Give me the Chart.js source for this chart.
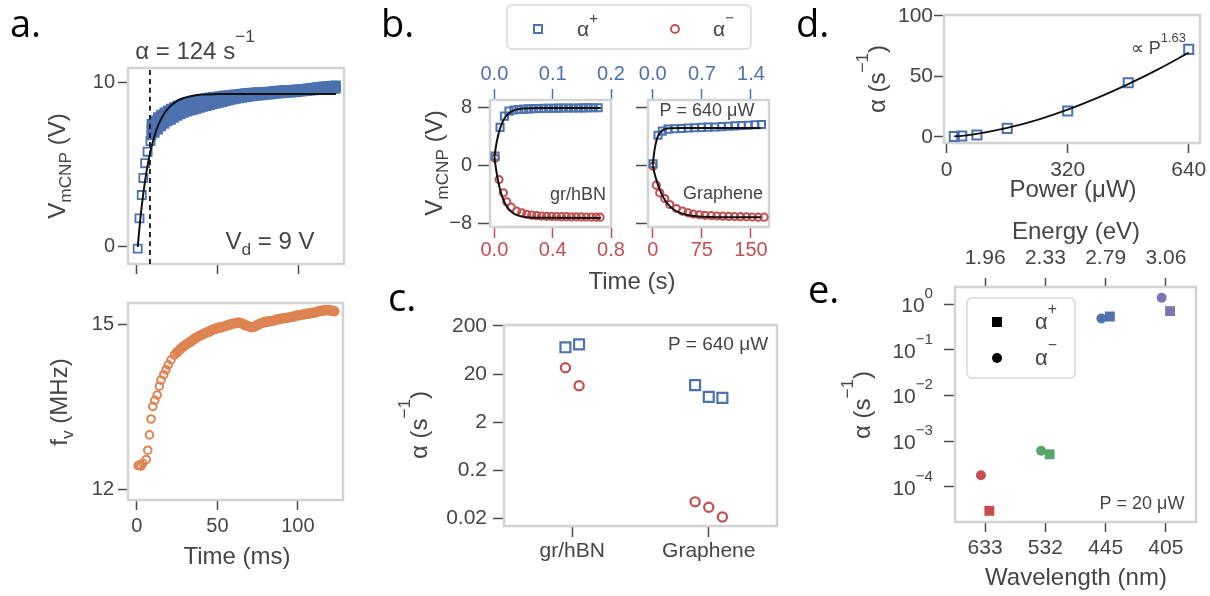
<!DOCTYPE html>
<html>
<head>
<meta charset="utf-8">
<script src="https://cdn.jsdelivr.net/npm/chart.js@4.4.1/dist/chart.umd.min.js"></script>
<style>
html, body { margin: 0; padding: 0; background: #fff; }
#wrap { position: relative; width: 1210px; height: 596px; overflow: hidden; }
#wrap canvas { position: absolute; left: 0; top: 0; }
</style>
</head>
<body>
<div id="wrap"></div>
<script>
// ---- data ----

// a. top: V_mCNP vs time (ms)
const aTimeEarly = [0.5, 1.6, 3.0, 4.0, 5.1, 6.6, 8.4];
const aVoltEarly = [-0.1, 1.74, 3.16, 4.2, 5.1, 5.8, 6.45];
const aTimeBand = [9, 11, 13, 15, 17, 19, 21, 23, 25, 27, 29, 31, 33, 35, 37, 39, 41, 43, 45, 47,
    49, 51, 53, 55, 57, 59, 61, 63, 65, 67, 69, 71, 73, 75, 77, 79, 81, 83, 85, 87,
    89, 91, 93, 95, 97, 99, 101, 103, 105, 107, 109, 111, 113, 115, 117, 119, 121, 123];
const aVoltHigh = [7.5, 7.7, 7.9, 8.05, 8.2, 8.32, 8.42, 8.52, 8.6, 8.67, 8.73, 8.79, 8.84, 8.89, 8.94, 8.98, 9.02, 9.06, 9.1, 9.13,
    9.16, 9.18, 9.21, 9.23, 9.25, 9.27, 9.29, 9.31, 9.33, 9.36, 9.38, 9.4, 9.41, 9.42, 9.43, 9.44, 9.46, 9.48, 9.5, 9.52,
    9.54, 9.55, 9.56, 9.57, 9.58, 9.59, 9.61, 9.63, 9.65, 9.67, 9.7, 9.73, 9.75, 9.77, 9.79, 9.81, 9.83, 9.84];
const aVoltLow = [6.8, 6.95, 7.15, 7.35, 7.5, 7.65, 7.75, 7.87, 7.98, 8.08, 8.17, 8.24, 8.3, 8.36, 8.42, 8.48, 8.53, 8.58, 8.63, 8.68,
    8.73, 8.78, 8.83, 8.88, 8.93, 8.98, 9.02, 9.06, 9.09, 9.12, 9.15, 9.18, 9.2, 9.22, 9.24, 9.26, 9.28, 9.3, 9.32, 9.34,
    9.36, 9.38, 9.4, 9.41, 9.42, 9.44, 9.46, 9.48, 9.5, 9.52, 9.54, 9.56, 9.57, 9.58, 9.59, 9.6, 9.62, 9.64];
const aTimeMid = [9, 11, 13, 15, 17, 19, 21, 23, 25, 27, 29, 31, 33, 35, 37, 39, 41, 43, 45, 47];
const aVoltMid = [7.15, 7.33, 7.53, 7.7, 7.85, 7.99, 8.09, 8.2, 8.29, 8.38, 8.45, 8.52, 8.57, 8.63, 8.68, 8.73, 8.78, 8.82, 8.87, 8.91];
const aFitTime = [0.5, 2, 4, 6, 8, 10, 12, 14, 17, 20, 24, 28, 33, 40, 50, 70, 123];
const aFitVolt = [0, 1.59, 3.29, 4.62, 5.66, 6.47, 7.1, 7.6, 8.14, 8.52, 8.84, 9.04, 9.18, 9.28, 9.31, 9.32, 9.32];
const aDashTime = 8.06;

// a. bottom: f_v vs time (ms)
const fTime = [0.8, 1.6, 2.6, 3.7, 5.8, 6.8, 7.8, 8.8, 9.9, 11.2, 12.6, 14.0, 15.0, 16.7, 18.1, 19.5, 21.2, 23.3,
    25, 27, 29, 31, 33, 35, 37, 39, 41, 43, 45, 47, 49, 51, 53, 55, 57, 59, 61, 63, 65, 67, 69, 71, 73,
    75, 77, 79, 81, 83, 85, 87, 89, 91, 93, 95, 97, 99, 101, 103, 105, 107, 109, 111, 113, 115, 117, 119, 121, 122.5];
const fFreq = [12.43, 12.44, 12.42, 12.47, 12.54, 12.71, 12.99, 13.28, 13.51, 13.62, 13.72, 13.88, 13.99, 14.09, 14.18, 14.27, 14.36, 14.45,
    14.5, 14.56, 14.61, 14.65, 14.69, 14.73, 14.77, 14.8, 14.83, 14.86, 14.88, 14.91, 14.93, 14.95, 14.96, 14.98, 15.0, 15.02, 15.03, 15.04, 15.03, 15.0, 14.98, 14.96, 14.97,
    15.0, 15.03, 15.05, 15.06, 15.07, 15.08, 15.1, 15.11, 15.12, 15.13, 15.14, 15.15, 15.17, 15.18, 15.19, 15.2, 15.21, 15.22, 15.23, 15.25, 15.26, 15.27, 15.27, 15.26, 15.25];
const fHollowCount = 18;

// b. gr/hBN (time in s, bottom axis)
const bHbnTimeUp = [0.005, 0.039, 0.069, 0.1, 0.134, 0.168, 0.202, 0.236, 0.27, 0.304, 0.338, 0.372, 0.406, 0.44, 0.474, 0.508, 0.542, 0.576, 0.61, 0.644, 0.678, 0.712];
const bHbnVoltUp = [1.3, 5.3, 6.86, 7.55, 7.7, 7.78, 7.83, 7.87, 7.9, 7.92, 7.94, 7.95, 7.96, 7.97, 7.98, 7.99, 8.0, 8.0, 8.01, 8.02, 8.02, 8.03];
const bHbnTimeDown = [0.005, 0.032, 0.062, 0.085, 0.115, 0.153, 0.188, 0.222, 0.256, 0.29, 0.324, 0.358, 0.392, 0.426, 0.46, 0.494, 0.528, 0.562, 0.596, 0.63, 0.664, 0.698, 0.725];
const bHbnVoltDown = [1.0, -1.95, -3.8, -5.05, -5.8, -6.35, -6.58, -6.78, -6.9, -6.98, -7.03, -7.06, -7.08, -7.1, -7.11, -7.12, -7.13, -7.14, -7.15, -7.16, -7.17, -7.18, -7.19];
const bHbnFitTime = [0, 0.01, 0.02, 0.03, 0.04, 0.05, 0.06, 0.08, 0.1, 0.13, 0.16, 0.2, 0.25, 0.3, 0.73];
const bHbnFitUp = [1.2, 2.56, 3.64, 4.51, 5.2, 5.76, 6.2, 6.85, 7.26, 7.62, 7.81, 7.92, 7.97, 7.99, 8.0];
const bHbnFitDown = [1.2, -0.31, -1.56, -2.58, -3.42, -4.11, -4.68, -5.53, -6.1, -6.64, -6.93, -7.13, -7.24, -7.28, -7.3];

// b. Graphene (time in s, bottom axis)
const bGrTimeUp = [0.5, 8.1, 14.7, 23.4, 33.6, 43.8, 54, 64.2, 74.4, 84.6, 94.8, 105, 115.2, 125.4, 135.6, 145.8, 156, 166];
const bGrVoltUp = [0.23, 4.2, 4.77, 5.05, 5.1, 5.15, 5.2, 5.25, 5.3, 5.33, 5.36, 5.4, 5.45, 5.5, 5.55, 5.6, 5.65, 5.7];
const bGrTimeDown = [0.5, 5.5, 10.7, 18.4, 26, 36.2, 45.4, 54, 62, 71, 80, 89, 98, 107, 116, 125, 134, 143, 152, 161, 170];
const bGrVoltDown = [-0.1, -2.74, -3.8, -4.59, -5.42, -5.98, -6.35, -6.58, -6.75, -6.85, -6.93, -6.98, -7.02, -7.05, -7.08, -7.1, -7.12, -7.14, -7.16, -7.18, -7.19];
const bGrFitTimeUp = [0, 2, 4, 6, 8, 10, 13, 16, 20, 25, 30, 40, 165];
const bGrFitUp = [0, 1.66, 2.79, 3.56, 4.08, 4.44, 4.77, 4.96, 5.09, 5.16, 5.18, 5.2, 5.2];
const bGrFitTimeDown = [0, 3, 6, 10, 15, 20, 25, 30, 40, 50, 60, 75, 100, 165];
const bGrFitDown = [0, -1.17, -2.14, -3.2, -4.22, -4.98, -5.54, -5.97, -6.52, -6.82, -6.99, -7.11, -7.18, -7.2];

// c. rates per sample (s^-1)
const cSamples = ['gr/hBN', 'Graphene'];
const cAlphaPlus = [[72, 83], [11.8, 6.7, 6.4]];
const cAlphaMinus = [[27, 11.4], [0.044, 0.034, 0.0213]];

// d. rate vs power
const dPower = [20, 40, 80, 160, 320, 480, 640];
const dAlpha = [0.2, 0.6, 1.4, 6.9, 21.2, 44.6, 72.2];
const dFitPower = [20, 40, 80, 160, 240, 320, 400, 480, 560, 640];
const dFitAlpha = [0.25, 0.76, 2.34, 7.25, 14.0, 22.4, 32.3, 43.5, 55.9, 69.5];

// e. rate vs wavelength
const eWavelength = ['633', '532', '445', '405'];
const eEnergy = ['1.96', '2.33', '2.79', '3.06'];
const eAlphaPlus = [3.0e-5, 5.2e-4, 0.54, 0.71];
const eAlphaMinus = [1.8e-4, 6.2e-4, 0.49, 1.39];
const eExponents = [0, -1, -2, -3, -4];

// ---- style ----
const W = 1210, H = 596;
const FONT = '"Liberation Sans", Arial, sans-serif';
const PANEL_FONT = '"Open Sans", "Liberation Sans", sans-serif';
const TEXT = '#454545', TICK = '#4a4a4a', SPINE = '#d3d3d3';
const BLUE = '#4c72b0', RED = '#c44e52', ORANGE = '#dd8452', GREEN = '#55a868', PURPLE = '#8172b2';
const eColors = [RED, GREEN, BLUE, PURPLE];
const YW = 60, XH = 40;

Chart.defaults.font.family = FONT;
Chart.defaults.color = TEXT;

function drawRich(ctx, t) {
    const fs = t.size || 24, fam = t.family || FONT;
    const rise = t.rise || 0.6, drop = t.drop || 0.35;
    const segs = t.parts.map(p => typeof p === 'string' ? [p, 0] : p);
    ctx.save();
    let total = 0;
    const m = segs.map(([s, k]) => {
        const f = k ? fs * 0.72 : fs;
        ctx.font = f + 'px ' + fam;
        const w = ctx.measureText(s).width;
        total += w;
        return { s, k, f, w };
    });
    ctx.translate(t.x, t.y);
    if (t.rot) ctx.rotate(t.rot);
    let x = t.align === 'left' ? 0 : t.align === 'right' ? -total : -total / 2;
    ctx.fillStyle = t.color || TEXT;
    ctx.textAlign = 'left';
    ctx.textBaseline = t.base || 'middle';
    m.forEach(g => {
        ctx.font = g.f + 'px ' + fam;
        const dy = g.k > 0 ? -fs * rise : g.k < 0 ? fs * drop : 0;
        ctx.fillText(g.s, x, dy);
        x += g.w;
    });
    ctx.restore();
}

function deco(texts, extra) {
    return {
        id: 'deco',
        beforeDatasetsDraw(chart) {
            const a = chart.chartArea, ctx = chart.ctx;
            ctx.save();
            ctx.strokeStyle = SPINE;
            ctx.lineWidth = 2.5;
            ctx.strokeRect(a.left, a.top, a.right - a.left, a.bottom - a.top);
            ctx.restore();
        },
        afterDraw(chart) {
            texts.forEach(t => drawRich(chart.ctx, t));
            if (extra) extra(chart);
        }
    };
}

function axis(pos, min, max, ticks, o = {}) {
    const vertical = pos === 'left' || pos === 'right';
    return {
        type: o.log ? 'logarithmic' : 'linear',
        axis: vertical ? 'y' : 'x',
        position: pos,
        min: min,
        max: max,
        afterBuildTicks: s => { s.ticks = ticks.map(v => ({ value: v })); },
        afterFit: s => {
            if (vertical) s.width = YW; else s.height = XH;
            s.paddingLeft = s.paddingRight = s.paddingTop = s.paddingBottom = 0;
        },
        grid: { display: true, drawOnChartArea: false, drawTicks: true, tickLength: o.tl || 10, tickWidth: 1.5, tickColor: o.color || TICK },
        border: { display: false },
        ticks: {
            display: o.labels !== false,
            padding: o.pad === undefined ? 5 : o.pad,
            color: o.color || TEXT,
            font: { size: o.fs || 20 },
            autoSkip: false, maxRotation: 0, minRotation: 0,
            callback: o.fmt || (v => String(v))
        }
    };
}

const minus = v => v < 0 ? '\u2212' + (-v) : String(v);
const oneDec = v => v.toFixed(1);
const pts = (xs, ys) => xs.map((x, i) => ({ x: x, y: ys[i] }));

function markers(data, style, color, r, fill, bw) {
    return {
        data: data, showLine: false, clip: false,
        pointStyle: style, pointRadius: r, pointHoverRadius: r,
        pointBorderWidth: fill === 'solid' ? 0 : (bw || 2),
        pointBorderColor: color,
        pointBackgroundColor: fill ? color : 'rgba(255,255,255,0)'
    };
}

function curve(data, color, width, dash) {
    return {
        data: data, showLine: true, pointRadius: 0, borderColor: color, borderWidth: width,
        borderDash: dash || [], cubicInterpolationMode: 'monotone', fill: false
    };
}

function makeChart(id, box, hasTop, scales, datasets, texts, extra) {
    const c = document.createElement('canvas');
    c.id = id;
    c.width = W; c.height = H;
    c.style.width = W + 'px'; c.style.height = H + 'px';
    document.getElementById('wrap').appendChild(c);
    return new Chart(c, {
        type: 'scatter',
        data: { datasets: datasets },
        options: {
            responsive: false, animation: false, events: [],
            layout: { padding: { left: box.l - YW, right: W - box.r, top: box.t - (hasTop ? XH : 0), bottom: H - box.b - XH } },
            plugins: { legend: { display: false }, tooltip: { enabled: false } },
            scales: scales
        },
        plugins: [deco(texts, extra)]
    });
}

const UP = -Math.PI / 2;
const alphaUnit = [['\u03b1 (s', 0], ['\u22121', 1], [')', 0]];
const panelLabel = (s, x, y) => ({ x: x, y: y, parts: [s], size: 38, family: PANEL_FONT, color: '#000', align: 'left', base: 'alphabetic' });

// ---- a. top ----
const aMin = -1.04, aMax = 10.9;
makeChart('a1', { l: 128, t: 68, r: 344, b: 264 }, false, {
    x: axis('bottom', -5.5, 128, [0, 50, 100], { labels: false, tl: 10 }),
    y: axis('left', aMin, aMax, [0, 10], { tl: 10, pad: 3 })
}, [
    curve(pts(aFitTime, aFitVolt), '#111', 2),
    curve(pts([aDashTime, aDashTime], [aMin, aMax]), '#111', 1.8, [5, 4]),
    markers(pts(aTimeEarly, aVoltEarly), 'rect', BLUE, 5.7, false, 1.8),
    markers(pts(aTimeBand, aVoltHigh), 'rect', BLUE, 5.7, true, 1.8),
    markers(pts(aTimeMid, aVoltMid), 'rect', BLUE, 5.7, true, 1.8),
    markers(pts(aTimeBand, aVoltLow), 'rect', BLUE, 5.7, true, 1.8)
], [
    panelLabel('a.', 10, 37),
    { x: 195, y: 52, parts: [['\u03b1 = 124 s', 0], ['\u22121', 1]], size: 24 },
    { x: 270, y: 242, parts: [['V', 0], ['d', -1], [' = 9 V', 0]], size: 24 },
    { x: 58, y: 166, rot: UP, parts: [['V', 0], ['mCNP', -1], [' (V)', 0]], size: 24 }
]);

// ---- a. bottom ----
const fPts = pts(fTime, fFreq);
makeChart('a2', { l: 128, t: 303, r: 343, b: 500 }, false, {
    x: axis('bottom', -5.5, 128, [0, 50, 100], { tl: 10, pad: 4 }),
    y: axis('left', 11.8, 15.4, [12, 15], { tl: 10, pad: 4 })
}, [
    markers(fPts.slice(0, fHollowCount), 'circle', ORANGE, 3.8, false, 2),
    markers(fPts.slice(fHollowCount), 'circle', ORANGE, 4.6, true, 1.5)
], [
    { x: 60, y: 402, rot: UP, parts: [['f', 0], ['v', -1], [' (MHz)', 0]], size: 24 },
    { x: 237, y: 557, parts: ['Time (ms)'], size: 24 }
]);

// ---- b. gr/hBN ----
makeChart('b1', { l: 490, t: 100, r: 611, b: 227 }, true, {
    x: axis('bottom', -0.03, 0.8, [0, 0.4, 0.8], { color: RED, tl: 11, pad: 0, fmt: oneDec }),
    x2: axis('top', -0.0075, 0.2, [0, 0.1, 0.2], { color: BLUE, tl: 11, pad: 3, fmt: oneDec }),
    y: axis('left', -8.55, 9.1, [-8, 0, 8], { tl: 12, pad: 6, fmt: minus })
}, [
    curve(pts(bHbnFitTime, bHbnFitUp), '#111', 2),
    curve(pts(bHbnFitTime, bHbnFitDown), '#111', 2),
    markers(pts(bHbnTimeUp, bHbnVoltUp), 'rect', BLUE, 5, false, 2),
    markers(pts(bHbnTimeDown, bHbnVoltDown), 'circle', RED, 3.6, false, 2)
], [
    panelLabel('b.', 381, 37),
    { x: 435, y: 163, rot: UP, parts: [['V', 0], ['mCNP', -1], [' (V)', 0]], size: 24 },
    { x: 578, y: 195, parts: ['gr/hBN'], size: 18 },
    { x: 632, y: 282, parts: ['Time (s)'], size: 24 }
], chart => {
    // legend box for panel b
    const ctx = chart.ctx;
    ctx.save();
    ctx.strokeStyle = '#d9d9d9';
    ctx.lineWidth = 1.5;
    ctx.beginPath();
    ctx.roundRect(507, 5, 244, 44, 5);
    ctx.stroke();
    ctx.lineWidth = 2;
    ctx.strokeStyle = BLUE;
    ctx.strokeRect(534, 25, 8, 8);
    ctx.strokeStyle = RED;
    ctx.beginPath();
    ctx.arc(675, 29, 4, 0, Math.PI * 2);
    ctx.stroke();
    ctx.restore();
    drawRich(ctx, { x: 577, y: 30, parts: [['\u03b1', 0], ['+', 1]], size: 21, align: 'left', rise: 0.55 });
    drawRich(ctx, { x: 713, y: 30, parts: [['\u03b1', 0], ['\u2212', 1]], size: 21, align: 'left', rise: 0.55 });
});

// ---- b. Graphene ----
makeChart('b2', { l: 648, t: 100, r: 769, b: 227 }, true, {
    x: axis('bottom', -7.2, 177.5, [0, 75, 150], { color: RED, tl: 11, pad: 0 }),
    x2: axis('top', -0.0672, 1.6567, [0, 0.7, 1.4], { color: BLUE, tl: 11, pad: 3, fmt: oneDec }),
    y: axis('left', -8.55, 9.1, [-8, 0, 8], { tl: 12, labels: false })
}, [
    curve(pts(bGrFitTimeUp, bGrFitUp), '#111', 2),
    curve(pts(bGrFitTimeDown, bGrFitDown), '#111', 2),
    markers(pts(bGrTimeUp, bGrVoltUp), 'rect', BLUE, 5, false, 2),
    markers(pts(bGrTimeDown, bGrVoltDown), 'circle', RED, 3.6, false, 2)
], [
    { x: 723, y: 194, parts: ['Graphene'], size: 18 },
    { x: 707, y: 111, parts: ['P = 640 \u03bcW'], size: 18 }
]);

// ---- c. ----
const dodge = (i, j, n) => i + (j - (n - 1) / 2) * 0.1;
const cPlusPts = [], cMinusPts = [];
cSamples.forEach((s, i) => {
    cAlphaPlus[i].forEach((v, j) => cPlusPts.push({ x: dodge(i, j, cAlphaPlus[i].length), y: v }));
    cAlphaMinus[i].forEach((v, j) => cMinusPts.push({ x: dodge(i, j, cAlphaMinus[i].length), y: v }));
});
makeChart('c', { l: 504, t: 325, r: 777, b: 526 }, false, {
    x: axis('bottom', -0.5, 1.5, [0, 1], { tl: 11, pad: 2, fs: 21, fmt: v => cSamples[v] }),
    y: axis('left', 0.01383, 209.7, [0.02, 0.2, 2, 20, 200], { log: true, tl: 11, pad: 6, fs: 21 })
}, [
    markers(cPlusPts, 'rect', BLUE, 7, false, 2.2),
    markers(cMinusPts, 'circle', RED, 4.6, false, 2.2)
], [
    panelLabel('c.', 388, 311),
    { x: 420, y: 425, rot: UP, parts: alphaUnit, size: 24 },
    { x: 718, y: 345, parts: ['P = 640 \u03bcW'], size: 19 }
]);

// ---- d. ----
makeChart('d', { l: 944, t: 15, r: 1200, b: 143 }, false, {
    x: axis('bottom', -7.1, 669.8, [0, 320, 640], { tl: 10, pad: 5, fs: 21 }),
    y: axis('left', -5.2, 100.6, [0, 50, 100], { tl: 10, pad: 1, fs: 21 })
}, [
    curve(pts(dFitPower, dFitAlpha), '#111', 1.8),
    markers(pts(dPower, dAlpha), 'rect', BLUE, 6.4, false, 2)
], [
    panelLabel('d.', 796, 37),
    { x: 878, y: 79, rot: UP, parts: alphaUnit, size: 24 },
    { x: 1073, y: 190, parts: ['Power (\u03bcW)'], size: 24 },
    { x: 1186, y: 49, parts: [['\u221d P', 0], ['1.63', 1]], size: 18, align: 'right' }
]);

// ---- e. ----
const eDodge = 0.07;
makeChart('e', { l: 955, t: 287, r: 1196, b: 522 }, true, {
    x: axis('bottom', -0.5, 3.5, [0, 1, 2, 3], { tl: 10, pad: 4, fs: 21, fmt: v => eWavelength[v] }),
    x2: axis('top', -0.5, 3.5, [0, 1, 2, 3], { tl: 9, pad: 7, fs: 21, fmt: v => eEnergy[v] }),
    y: axis('left', 1.71e-5, 2.39, [1e-4, 1e-3, 1e-2, 1e-1, 1], { log: true, tl: 11, labels: false })
}, [
    markers(eAlphaMinus.map((v, i) => ({ x: i - eDodge, y: v })), 'circle', eColors, 5, 'solid'),
    markers(eAlphaPlus.map((v, i) => ({ x: i + eDodge, y: v })), 'rect', eColors, 7, 'solid')
], [
    panelLabel('e.', 808, 303),
    { x: 863, y: 405, rot: UP, parts: alphaUnit, size: 24 },
    { x: 1076, y: 578, parts: ['Wavelength (nm)'], size: 24 },
    { x: 1076, y: 232, parts: ['Energy (eV)'], size: 24 },
    { x: 1142, y: 504, parts: ['P = 20 \u03bcW'], size: 18 }
], chart => {
    const ctx = chart.ctx, ys = chart.scales.y;
    eExponents.forEach(k => {
        const y = ys.getPixelForValue(Math.pow(10, k));
        drawRich(ctx, { x: 933, y: y + 2, parts: [['10', 0], [k === 0 ? '0' : '\u2212' + (-k), 1]], size: 21, align: 'right', rise: 0.6 });
    });
    // legend box for panel e
    ctx.save();
    ctx.strokeStyle = '#d9d9d9';
    ctx.lineWidth = 1.5;
    ctx.beginPath();
    ctx.roundRect(967, 298, 108, 80, 5);
    ctx.stroke();
    ctx.fillStyle = '#000';
    ctx.fillRect(992, 317, 10, 10);
    ctx.beginPath();
    ctx.arc(997, 358, 5, 0, Math.PI * 2);
    ctx.fill();
    ctx.restore();
    drawRich(ctx, { x: 1035, y: 323, parts: [['\u03b1', 0], ['+', 1]], size: 22, align: 'left', rise: 0.6 });
    drawRich(ctx, { x: 1035, y: 359, parts: [['\u03b1', 0], ['\u2212', 1]], size: 22, align: 'left', rise: 0.6 });
});
</script>
</body>
</html>
